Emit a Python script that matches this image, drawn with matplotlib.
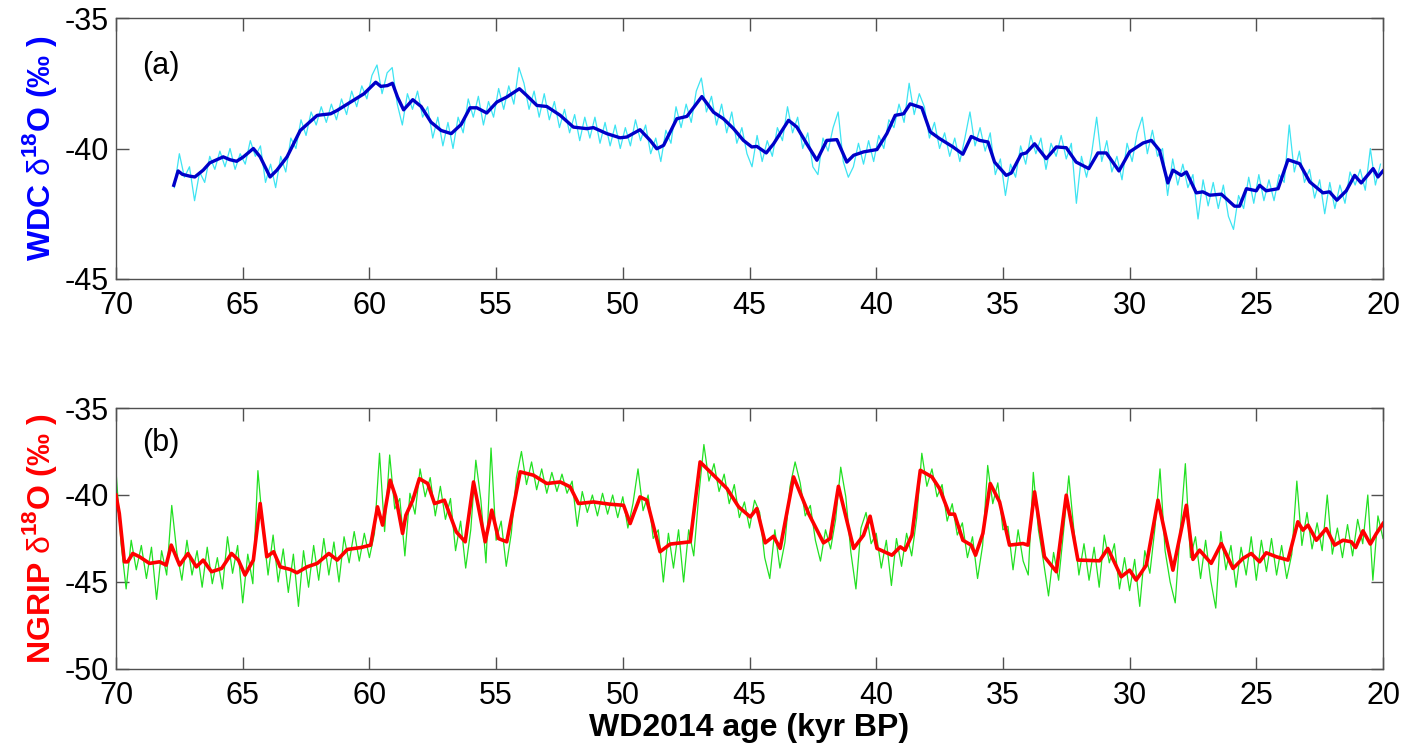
import numpy as np
import matplotlib
matplotlib.use("Agg")
import matplotlib.pyplot as plt

plt.rcParams['font.family'] = ['Liberation Sans', 'DejaVu Sans']
plt.rcParams['mathtext.fontset'] = 'custom'
plt.rcParams['mathtext.rm'] = 'Liberation Sans'
plt.rcParams['mathtext.bf'] = 'Liberation Sans:bold'

# ---------------- WDC (panel a) ----------------
wdc_smooth_age = [67.72, 67.55, 67.38, 67.09, 66.89, 66.56, 66.30, 65.77, 65.50, 65.24,
                  64.97, 64.58, 64.31, 63.92, 63.65, 63.25, 62.73, 62.06, 61.53, 61.27,
                  60.74, 60.21, 59.75, 59.55, 59.29, 59.09, 58.89, 58.65, 58.29, 57.96,
                  57.57, 57.17, 56.77, 56.38, 56.03, 55.76, 55.37, 54.97, 54.58, 54.08,
                  53.79, 53.39, 53.00, 52.47, 51.95, 51.42, 51.16, 50.63, 50.11, 49.84,
                  49.32, 48.92, 48.66, 48.39, 47.87, 47.47, 46.88, 46.42, 46.03, 45.63,
                  45.24, 44.91, 44.71, 44.34, 44.05, 43.46, 43.13, 42.74, 42.34, 41.95,
                  41.55, 41.16, 40.89, 40.50, 39.97, 39.58, 39.25, 38.92, 38.66, 38.20,
                  37.87, 37.50, 36.97, 36.58, 36.25, 35.92, 35.59, 35.33, 34.87, 34.67,
                  34.28, 34.08, 33.75, 33.29, 32.89, 32.50, 32.11, 31.61, 31.25, 30.92,
                  30.42, 30.00, 29.47, 29.14, 28.82, 28.49, 28.29, 27.96, 27.76, 27.37,
                  27.11, 26.84, 26.38, 25.86, 25.66, 25.39, 25.00, 24.87, 24.61, 24.14,
                  23.75, 23.29, 22.89, 22.37, 22.11, 21.82, 21.45, 21.12, 20.86, 20.39,
                  20.20, 20.00]
wdc_smooth = [-41.41, -40.86, -40.99, -41.06, -41.09, -40.83, -40.55, -40.32, -40.43, -40.49,
              -40.32, -40.00, -40.32, -41.09, -40.83, -40.32, -39.31, -38.73, -38.67, -38.54,
              -38.22, -37.90, -37.46, -37.62, -37.59, -37.50, -38.03, -38.52, -38.13, -38.39,
              -38.99, -39.31, -39.43, -39.08, -38.44, -38.44, -38.64, -38.22, -38.03, -37.71,
              -37.97, -38.35, -38.39, -38.73, -39.18, -39.24, -39.20, -39.43, -39.59, -39.56,
              -39.28, -39.69, -40.01, -39.88, -38.86, -38.77, -38.01, -38.61, -38.86, -39.24,
              -39.69, -39.94, -39.92, -40.17, -39.82, -38.92, -39.18, -39.82, -40.45, -39.69,
              -39.66, -40.52, -40.26, -40.13, -40.04, -39.43, -38.73, -38.67, -38.29, -38.44,
              -39.36, -39.62, -39.94, -40.22, -39.54, -39.69, -39.75, -40.52, -41.03, -40.94,
              -40.22, -40.17, -39.82, -40.39, -39.94, -39.97, -40.52, -40.77, -40.17, -40.17,
              -40.86, -40.13, -39.79, -39.69, -40.07, -41.32, -40.83, -41.03, -40.90, -41.70,
              -41.66, -41.79, -41.75, -42.21, -42.21, -41.54, -41.62, -41.41, -41.62, -41.54,
              -40.43, -40.58, -41.28, -41.70, -41.66, -41.98, -41.62, -41.03, -41.32, -40.77,
              -41.09, -40.86]
# raw record, 0.2 kyr sampling from 67.7 to 20.1 kyr BP
wdc_raw = [-41.5, -40.2, -41.1, -40.7, -42.0, -40.9, -41.3, -40.3, -40.8, -40.1,
           -40.7, -40.0, -40.8, -40.2, -40.6, -39.7, -40.3, -39.9, -41.3, -40.6,
           -41.5, -40.3, -40.9, -39.6, -40.0, -38.9, -39.5, -38.6, -39.1, -38.4,
           -39.0, -38.3, -38.9, -38.1, -38.7, -37.8, -38.4, -37.6, -38.1, -37.2,
           -36.8, -37.9, -37.1, -36.9, -38.3, -39.1, -37.9, -38.5, -37.8, -38.8,
           -38.4, -39.6, -38.8, -39.9, -39.0, -40.0, -38.8, -39.4, -38.1, -38.8,
           -38.0, -39.1, -38.2, -38.8, -37.7, -38.5, -37.6, -38.3, -36.9, -37.5,
           -38.5, -37.8, -38.8, -37.9, -38.9, -38.2, -39.2, -38.5, -39.4, -38.7,
           -39.7, -38.8, -39.6, -38.8, -39.8, -39.0, -39.9, -39.1, -40.0, -39.2,
           -39.9, -38.9, -39.7, -39.1, -40.2, -39.6, -40.5, -39.3, -39.8, -38.4,
           -39.2, -38.3, -39.0, -37.8, -37.3, -38.6, -38.0, -39.1, -38.3, -39.4,
           -38.6, -39.8, -39.2, -40.2, -40.7, -39.5, -40.5, -39.7, -40.3, -39.2,
           -39.7, -38.4, -39.4, -38.8, -40.0, -39.4, -40.7, -41.0, -39.6, -40.1,
           -39.2, -38.6, -40.5, -41.1, -40.7, -39.8, -40.6, -39.7, -40.5, -39.5,
           -40.0, -38.9, -39.2, -38.3, -39.0, -37.5, -38.7, -37.9, -38.4, -39.6,
           -39.0, -40.0, -39.4, -40.3, -39.6, -40.5, -39.6, -38.6, -39.9, -39.2,
           -40.1, -39.4, -41.0, -40.4, -41.8, -40.6, -41.1, -39.9, -40.6, -39.5,
           -40.2, -39.6, -40.8, -39.8, -40.3, -39.5, -40.4, -39.8, -42.1, -40.3,
           -41.1, -40.2, -38.8, -40.5, -39.7, -40.9, -40.3, -41.2, -39.8, -40.5,
           -39.4, -38.8, -40.2, -39.3, -40.3, -40.0, -41.8, -40.4, -41.4, -40.6,
           -41.5, -41.0, -42.7, -41.2, -42.2, -41.3, -42.3, -41.4, -42.6, -43.1,
           -41.8, -42.3, -41.1, -42.1, -41.0, -42.0, -41.2, -42.0, -41.0, -41.3,
           -39.1, -40.9, -40.1, -41.3, -40.8, -41.9, -41.2, -42.5, -41.3, -42.3,
           -41.4, -42.1, -40.9, -41.4, -40.8, -41.6, -40.0, -41.4, -40.6]
wdc_raw_first, wdc_raw_last = 67.7, 20.1

# ---------------- NGRIP (panel b) ----------------
ngrip_smooth_age = [70.00, 69.87, 69.67, 69.54, 69.34, 69.07, 68.68, 68.28, 68.02, 67.82,
                    67.49, 67.16, 66.83, 66.56, 66.23, 65.83, 65.44, 65.17, 64.91, 64.58,
                    64.31, 64.05, 63.78, 63.52, 63.12, 62.86, 62.46, 62.06, 61.60, 61.27,
                    60.87, 60.34, 59.95, 59.68, 59.48, 59.18, 58.96, 58.69, 58.56, 58.29,
                    58.03, 57.70, 57.43, 57.04, 56.57, 56.22, 55.89, 55.43, 55.17, 54.91,
                    54.58, 54.05, 53.53, 53.00, 52.47, 52.08, 51.75, 51.16, 50.50, 49.97,
                    49.71, 49.32, 49.05, 48.53, 48.13, 47.34, 46.95, 46.42, 45.89, 45.43,
                    44.97, 44.71, 44.38, 44.05, 43.79, 43.26, 42.67, 42.08, 41.82, 41.49,
                    40.89, 40.50, 40.24, 39.97, 39.38, 39.05, 38.86, 38.59, 38.26, 37.80,
                    37.50, 37.11, 36.91, 36.58, 36.25, 36.08, 35.79, 35.50, 35.13, 34.74,
                    34.21, 34.01, 33.75, 33.36, 32.89, 32.50, 32.04, 31.18, 30.86, 30.33,
                    30.00, 29.74, 29.34, 28.88, 28.29, 27.76, 27.50, 27.24, 26.78, 26.38,
                    25.92, 25.53, 25.20, 24.87, 24.61, 24.21, 23.75, 23.36, 23.16, 22.96,
                    22.63, 22.24, 21.91, 21.58, 21.25, 21.08, 20.79, 20.50, 20.26, 20.00]
ngrip_smooth = [-40.01, -41.06, -43.84, -43.84, -43.36, -43.55, -43.93, -43.84, -44.03, -42.88,
                -44.03, -43.36, -44.13, -43.74, -44.41, -44.22, -43.36, -43.74, -44.60, -43.74,
                -40.49, -43.55, -43.26, -44.13, -44.28, -44.47, -44.13, -43.93, -43.36, -43.74,
                -43.13, -43.02, -42.88, -40.68, -41.73, -39.15, -40.11, -42.21, -41.16, -40.30,
                -39.06, -39.34, -40.49, -40.30, -42.12, -42.69, -39.25, -42.69, -40.87, -42.50,
                -42.69, -38.67, -38.86, -39.34, -39.25, -39.53, -40.49, -40.40, -40.53, -40.59,
                -41.64, -40.11, -40.30, -43.26, -42.82, -42.69, -38.10, -38.86, -39.63, -40.68,
                -41.26, -40.78, -42.75, -42.37, -43.07, -38.96, -41.06, -42.75, -42.50, -39.50,
                -43.07, -42.31, -41.22, -43.07, -43.46, -42.98, -43.17, -42.31, -38.58, -38.96,
                -39.63, -41.10, -41.10, -42.60, -42.88, -43.46, -42.21, -39.34, -40.40, -42.88,
                -42.79, -42.88, -39.82, -43.55, -44.41, -40.01, -43.74, -43.78, -43.07, -44.70,
                -44.32, -44.89, -44.03, -40.30, -44.32, -40.59, -43.70, -43.17, -43.93, -42.79,
                -44.22, -43.65, -43.36, -43.84, -43.32, -43.55, -43.74, -41.54, -42.02, -41.73,
                -42.60, -41.93, -42.88, -42.60, -42.69, -43.02, -42.06, -42.82, -42.21, -41.64]
# raw record, 0.2 kyr sampling from 70.0 to 20.0 kyr BP
ngrip_raw = [-38.6, -42.8, -45.4, -42.6, -44.3, -42.9, -44.8, -43.0, -46.0, -43.2,
             -44.6, -40.6, -43.3, -44.9, -42.6, -44.6, -43.2, -45.3, -43.0, -45.1,
             -43.6, -45.4, -42.4, -44.5, -42.9, -46.2, -43.4, -45.1, -38.6, -41.9,
             -44.6, -42.3, -45.0, -43.1, -45.6, -43.4, -46.4, -43.2, -45.3, -42.9,
             -44.9, -42.5, -44.6, -42.7, -45.0, -42.4, -43.9, -42.1, -43.8, -42.2,
             -43.6, -42.2, -37.6, -42.1, -37.7, -40.8, -40.2, -43.5, -39.9, -41.1,
             -38.5, -40.1, -39.0, -41.2, -39.5, -41.4, -40.2, -43.2, -41.5, -44.2,
             -42.0, -38.0, -40.3, -43.9, -37.3, -42.6, -41.5, -44.1, -42.2, -39.0,
             -37.5, -39.4, -38.1, -39.7, -38.5, -39.9, -38.7, -39.8, -38.8, -39.9,
             -39.2, -41.8, -39.8, -41.0, -40.0, -41.2, -39.9, -41.1, -40.0, -41.3,
             -40.1, -41.9, -40.5, -38.5, -40.9, -40.0, -42.5, -42.0, -45.0, -42.2,
             -44.2, -42.0, -45.0, -42.0, -43.5, -40.0, -37.1, -39.2, -38.2, -39.8,
             -38.8, -40.5, -39.4, -41.3, -40.4, -41.9, -40.3, -41.0, -43.6, -44.8,
             -42.0, -44.2, -42.7, -39.5, -38.1, -39.3, -41.2, -40.6, -42.6, -43.8,
             -42.0, -43.1, -41.4, -38.4, -40.1, -43.3, -45.4, -41.9, -41.0, -42.8,
             -42.2, -44.2, -42.6, -45.2, -42.5, -44.1, -42.2, -43.5, -41.3, -37.6,
             -39.5, -38.5, -40.1, -39.4, -41.5, -40.5, -42.3, -41.6, -43.6, -42.4,
             -44.8, -42.9, -38.3, -40.5, -39.3, -42.0, -41.8, -44.3, -42.0, -43.8,
             -44.6, -38.7, -42.0, -43.8, -45.8, -43.3, -44.9, -42.0, -38.9, -42.0,
             -44.6, -42.8, -44.9, -43.0, -45.3, -42.3, -43.9, -42.8, -45.4, -43.6,
             -45.5, -43.7, -46.4, -43.2, -44.5, -41.9, -38.5, -43.2, -45.0, -46.2,
             -42.0, -38.2, -43.6, -42.4, -44.8, -42.6, -44.9, -46.5, -42.1, -44.3,
             -42.9, -45.3, -43.0, -44.6, -42.4, -44.9, -42.6, -44.4, -42.5, -44.6,
             -42.9, -44.8, -43.4, -39.2, -42.9, -41.0, -43.1, -41.6, -43.2, -40.0,
             -43.4, -41.9, -43.6, -41.7, -43.5, -41.4, -42.8, -40.0, -44.9, -41.2,
             -42.5]
ngrip_raw_first, ngrip_raw_last = 70.0, 20.0

xticks = [70, 65, 60, 55, 50, 45, 40, 35, 30, 25, 20]
yticks_a = [-45, -40, -35]
yticks_b = [-50, -45, -40, -35]

wdc_raw_age = np.linspace(wdc_raw_first, wdc_raw_last, len(wdc_raw))
ngrip_raw_age = np.linspace(ngrip_raw_first, ngrip_raw_last, len(ngrip_raw))

fig = plt.figure(figsize=(14.07, 7.47), dpi=100)
W, H = 1407, 747
def axrect(l, t, r, b):
    return [l / W, 1 - b / H, (r - l) / W, (b - t) / H]

ax1 = fig.add_axes(axrect(116, 18, 1383, 279))
ax2 = fig.add_axes(axrect(116, 408, 1383, 669))

spine_col = '#505050'
for ax in (ax1, ax2):
    ax.set_xlim(70, 20)
    ax.set_xticks(xticks)
    ax.set_xticklabels([str(t) for t in xticks])
    ax.tick_params(axis='both', direction='in', length=9, width=1, color=spine_col,
                   top=True, right=True, labelsize=22, labelcolor='black')
    ax.tick_params(axis='x', pad=9)
    ax.tick_params(axis='y', pad=5)
    for s in ax.spines.values():
        s.set_color(spine_col)
        s.set_linewidth(1.0)

ax1.plot(wdc_raw_age, wdc_raw, color='#3EE4F2', lw=0.9, zorder=2)
ax1.plot(wdc_smooth_age, wdc_smooth, color='#0000C8', lw=2.4, zorder=3)
ax1.set_ylim(-45, -35)
ax1.set_yticks(yticks_a)
ax1.set_yticklabels([str(t) for t in yticks_a])
ax1.set_ylabel(r'WDC $\mathrm{δ}^{\mathbf{18}}$O (‰ )', color='#0000FF', fontsize=23,
               fontweight='bold')
ax1.yaxis.set_label_coords(-0.045, 0.5)
ax1.text(0.021, 0.816, '(a)', transform=ax1.transAxes, fontsize=22,
         ha='left', va='center')

ax2.plot(ngrip_raw_age, ngrip_raw, color='#22E022', lw=0.9, zorder=2)
ax2.plot(ngrip_smooth_age, ngrip_smooth, color='#FF0000', lw=2.6, zorder=3)
ax2.set_ylim(-50, -35)
ax2.set_yticks(yticks_b)
ax2.set_yticklabels([str(t) for t in yticks_b])
ax2.set_ylabel(r'NGRIP $\mathrm{δ}^{\mathbf{18}}$O (‰ )', color='#FF0000', fontsize=23,
               fontweight='bold')
ax2.yaxis.set_label_coords(-0.045, 0.5)
ax2.text(0.021, 0.866, '(b)', transform=ax2.transAxes, fontsize=22,
         ha='left', va='center')
ax2.set_xlabel('WD2014 age (kyr BP)', fontsize=23, fontweight='bold')
ax2.xaxis.set_label_coords(0.5, -0.17)

fig.savefig('out.png', dpi=100)
